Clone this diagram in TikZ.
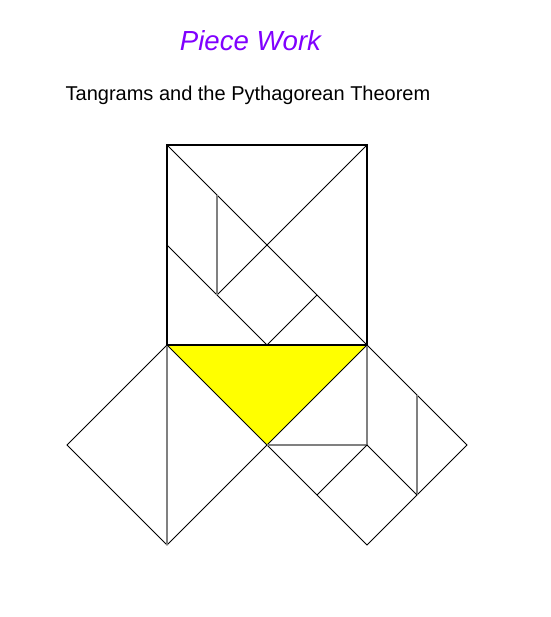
\documentclass[tikz,border=0pt]{standalone}
\usepackage{fontspec}
\setmainfont{Liberation Sans}
\definecolor{titlepurple}{HTML}{8000FF}
\definecolor{edgegray}{HTML}{808080}
\definecolor{pureyellow}{HTML}{FFFF00}
\begin{document}
\begin{tikzpicture}[x=1pt,y=-1pt,
  thinline/.style={black,line width=0.8pt},
  thickline/.style={black,line width=2pt},
  grayline/.style={edgegray,line width=1.8pt},
  txt/.style={inner sep=0pt,anchor=base}]
\useasboundingbox (0,0) rectangle (550,617);
% title texts
\node[txt,text=titlepurple,font=\fontsize{27.6}{30}\selectfont\itshape] (title) at (250.5,51) {Piece Work};
\node[txt,font=\fontsize{20}{24}\selectfont] (sub) at (248,101) {Tangrams and the Pythagorean Theorem};
% key points
\coordinate (A) at (167,145);
\coordinate (B) at (367,145);
\coordinate (C) at (367,345);
\coordinate (D) at (167,345);
\coordinate (O) at (267,245);
\coordinate (P) at (217,295);
\coordinate (Q) at (217,195);
\coordinate (L) at (167,245);
\coordinate (M) at (267,345);
\coordinate (R) at (317,295);
\coordinate (T) at (267,445);
\coordinate (W) at (67,445);
\coordinate (S) at (167,545);
\coordinate (E) at (467,445);
\coordinate (F) at (367,545);
\coordinate (G) at (367,445);
\coordinate (H) at (417,395);
\coordinate (K) at (417,495);
\coordinate (N) at (317,495);
% yellow triangle
\fill[pureyellow] (D) -- (C) -- (T) -- cycle;
\draw[thinline] (C) -- (T) -- (D);
% left square
\draw[thinline] (D) -- (W) -- (S) -- (T);
\draw[grayline] (D) -- (S);
% right square
\draw[thinline] (C) -- (E) -- (F) -- (T);
\draw[grayline] (C) -- (G) -- (T);
\draw[grayline] (H) -- (K);
\draw[thinline] (N) -- (G) -- (K);
% top square inner lines
\draw[thinline] (A) -- (C);
\draw[thinline] (B) -- (P);
\draw[thinline] (L) -- (M) -- (R);
\draw[grayline] (Q) -- (P);
% top square outline
\draw[thickline] (A) rectangle (C);
\end{tikzpicture}
\end{document}
